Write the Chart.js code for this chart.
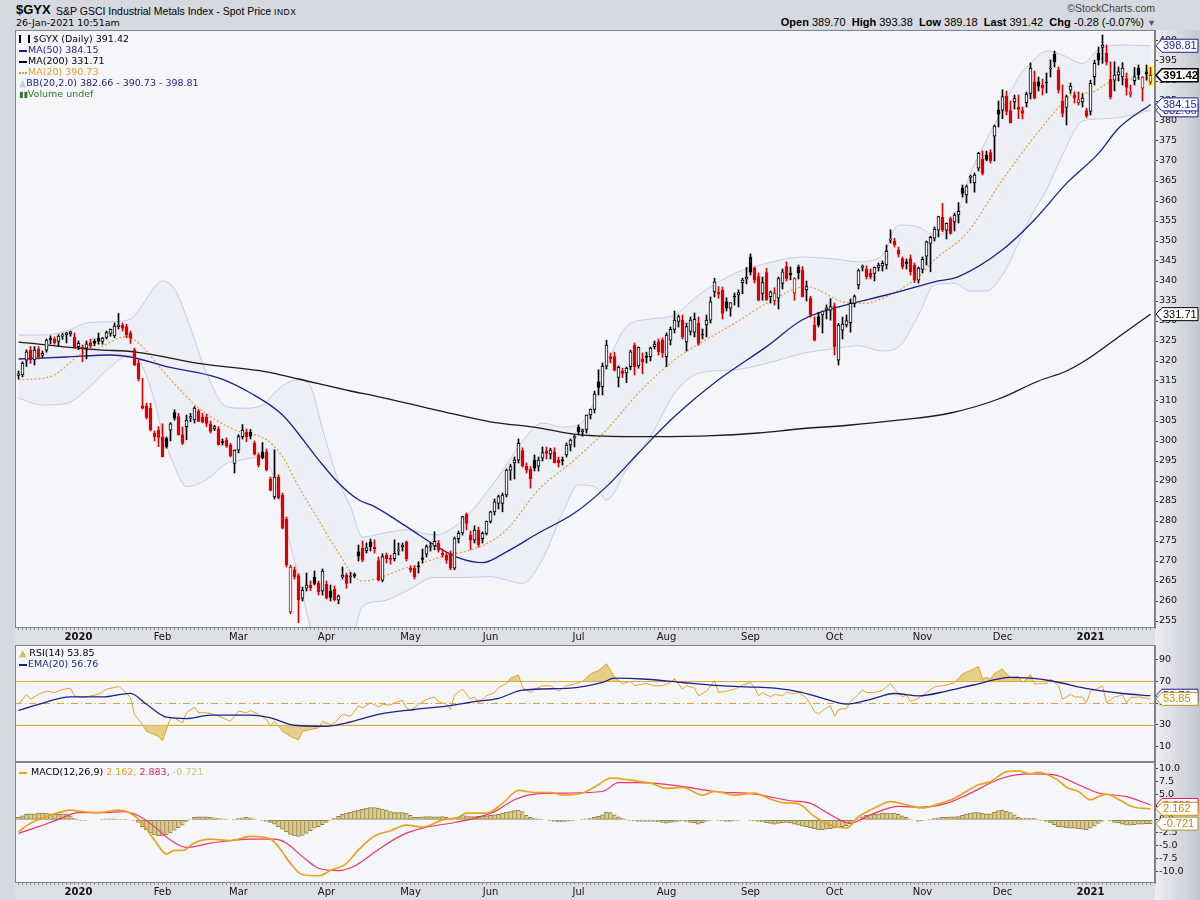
<!DOCTYPE html>
<html>
<head>
<meta charset="utf-8">
<script src="https://cdn.jsdelivr.net/npm/chart.js@4.4.1/dist/chart.umd.min.js"></script>
<style>
  body { margin: 0; width: 1200px; height: 900px; background: #d6d9df; position: relative; overflow: hidden;
         font-family: "DejaVu Sans", Verdana, sans-serif; }
  canvas { position: absolute; }
  .t { position: absolute; white-space: nowrap; }
  .lg { position: absolute; font-size: 9.5px; line-height: 11px; white-space: nowrap; }
  .ln { display: inline-block; width: 8px; height: 2px; vertical-align: middle; margin-right: 1px; }
  .hdr { font-family: "Liberation Sans", Arial, sans-serif; }
  .hdr b { font-weight: bold; }
</style>
</head>
<body>
<div class="t hdr" style="left:16px;top:2px;font-size:13px;font-weight:bold;">$GYX</div>
<div class="t hdr" style="left:56px;top:5px;font-size:10.5px;">S&amp;P GSCI Industrial Metals Index - Spot Price <span style="font-size:8.5px;letter-spacing:0.5px;">INDX</span></div>
<div class="t" style="left:16px;top:17px;font-size:9.5px;">26-Jan-2021 10:51am</div>
<div class="t hdr" style="right:45px;top:2px;font-size:10.5px;color:#444;">&copy;StockCharts.com</div>
<div class="t hdr" style="right:44px;top:16px;font-size:11px;"><b>Open</b> 389.70 &nbsp;<b>High</b> 393.38 &nbsp;<b>Low</b> 389.18 &nbsp;<b>Last</b> 391.42 &nbsp;<b>Chg</b> -0.28 (-0.07%) <span style="color:#4a5a9a;font-size:9px;">&#9660;</span></div>

<canvas id="main" width="1185" height="615" style="left:15px;top:30px"></canvas>
<canvas id="rsi" width="1185" height="117" style="left:15px;top:645px"></canvas>
<canvas id="macd" width="1185" height="138" style="left:15px;top:762px"></canvas>

<div class="lg" id="lgMain" style="left:19px;top:33px;"></div>
<div class="lg" id="lgRsi" style="left:19px;top:647px;"></div>
<div class="lg" id="lgMacd" style="left:19px;top:766px;"></div>

<script>
// ---- daily candles, index 0 = 10-Dec-2019 ... 283 = 26-Jan-2021 ----
const opens = [
  316.4,316.5,320.2,322.7,320.3,323.0,321.4,322.7,325.6,325.4,
  324.9,326.2,326.6,326.8,326.0,323.6,323.4,323.2,324.6,324.9,
  325.7,324.9,325.9,326.9,326.3,328.6,329.0,328.6,327.0,322.7,
  319.4,308.8,308.7,308.2,302.0,302.7,301.0,300.6,302.7,307.1,
  306.1,301.6,303.6,305.7,305.3,307.5,306.0,306.0,304.3,303.0,
  303.0,299.8,300.2,299.0,294.4,297.7,301.1,302.2,302.2,299.4,
  296.5,297.3,297.3,290.5,286.0,291.0,286.5,280.4,257.3,267.8,
  266.3,260.7,263.2,263.9,265.9,264.4,262.5,264.2,262.5,263.0,
  260.2,266.0,266.4,266.0,266.6,272.3,273.2,272.6,274.8,273.4,
  270.1,265.2,271.5,270.5,270.6,272.5,273.5,274.8,268.2,268.2,
  268.8,270.8,271.7,273.5,273.8,274.4,271.9,271.4,271.9,268.2,
  275.6,277.0,281.7,276.5,275.2,277.7,275.6,276.9,279.9,282.3,
  284.4,284.4,286.5,292.7,294.5,295.2,297.6,293.7,292.9,295.2,
  293.7,295.7,297.4,296.7,297.3,295.2,295.3,296.5,299.0,300.8,
  303.4,302.3,302.9,306.5,307.9,314.8,313.6,318.7,321.1,321.1,
  315.9,317.4,317.0,318.6,324.0,318.8,320.5,321.2,321.1,323.6,
  324.8,325.2,321.1,325.2,327.9,329.9,330.2,324.8,327.4,327.2,
  329.4,326.6,329.0,330.2,337.3,337.2,337.7,334.8,333.2,336.3,
  336.5,339.6,340.5,346.0,343.2,341.1,336.9,342.1,336.1,335.1,
  335.7,339.4,343.6,342.0,337.0,343.4,342.7,337.8,335.7,329.0,
  331.1,331.5,332.8,332.7,333.7,320.2,327.7,329.0,329.6,334.4,
  339.0,343.4,343.0,342.0,341.9,343.4,343.8,344.0,350.2,350.0,
  347.7,345.6,344.8,345.6,344.0,340.2,342.9,346.2,349.4,350.7,
  352.7,355.9,352.7,355.6,354.8,356.5,363.2,361.5,365.9,364.6,
  368.2,370.4,371.5,372.1,376.2,382.7,382.7,386.2,382.6,384.8,
  383.4,382.6,384.6,386.9,389.8,389.8,389.0,389.7,393.0,396.7,
  392.7,385.0,383.4,387.7,386.5,384.6,384.8,382.6,382.4,391.1,
  396.9,398.4,396.9,390.4,390.2,391.5,391.0,390.6,386.8,390.1,
  393.2,388.2,392.3,389.70
];
const highs = [
  317.5,319.8,322.8,323.6,323.6,323.6,322.5,325.5,326.3,326.0,
  326.6,326.9,327.2,327.5,327.0,325.0,324.0,325.0,325.5,325.5,
  327.0,325.9,327.5,328.0,329.5,331.9,329.5,329.2,327.5,323.2,
  320.2,315.7,309.5,309.4,302.5,303.6,304.3,301.0,304.6,307.8,
  306.9,303.5,306.5,306.9,308.6,307.9,306.9,306.7,305.0,303.9,
  303.6,300.5,300.8,299.4,297.8,301.6,304.1,303.0,302.9,300.0,
  297.0,299.6,298.0,291.0,297.8,291.5,287.0,281.0,269.0,268.5,
  266.8,263.5,267.0,265.0,267.5,265.0,268.0,265.0,264.0,263.8,
  261.5,268.5,267.0,267.2,267.0,274.0,275.0,274.5,275.5,275.3,
  271.0,271.8,272.0,271.5,275.3,274.5,274.5,275.0,268.8,268.8,
  269.8,273.0,274.0,274.5,277.3,275.2,273.0,272.2,272.5,276.0,
  277.5,281.2,282.0,277.5,278.8,278.5,277.3,280.0,282.5,285.5,
  286.5,287.0,293.0,294.2,296.0,300.5,298.3,294.5,293.6,296.5,
  296.0,298.5,298.5,298.2,298.3,296.0,296.0,299.5,300.5,301.5,
  304.0,303.0,306.5,308.0,312.5,317.8,319.5,325.2,322.0,322.2,
  318.8,318.2,318.5,322.7,324.5,323.5,322.0,322.2,323.5,325.0,
  325.5,325.8,327.0,328.5,332.5,331.5,331.5,329.5,331.0,332.0,
  331.0,328.0,331.5,336.0,340.7,338.6,338.5,335.8,334.5,337.0,
  337.8,340.7,343.4,346.8,343.5,342.0,341.0,343.2,337.5,338.3,
  341.0,343.0,344.8,343.5,340.8,344.0,343.6,340.0,336.2,331.0,
  332.2,332.5,334.0,335.6,334.5,329.4,331.0,331.5,335.5,336.5,
  343.0,344.0,343.8,343.0,343.5,344.5,345.0,349.0,352.8,350.7,
  348.5,346.0,345.5,346.5,344.5,343.5,346.0,350.0,351.2,353.5,
  356.2,359.4,354.5,356.0,357.0,359.6,364.0,364.0,366.5,367.0,
  372.2,372.5,372.5,372.8,379.0,385.0,387.8,387.5,385.0,386.5,
  386.5,383.5,387.2,394.5,392.5,391.0,390.5,392.0,395.3,397.5,
  393.5,389.0,386.5,389.5,387.3,387.3,386.8,383.2,390.2,395.2,
  398.5,401.5,399.0,394.8,394.8,393.5,394.6,392.0,389.0,393.4,
  394.0,391.1,394.0,393.38
];
const lows = [
  315.5,316.0,318.6,319.4,319.0,320.5,320.8,322.2,324.3,324.2,
  323.8,325.4,324.5,326.2,323.2,322.8,319.8,320.5,323.3,323.8,
  324.2,324.2,325.5,326.2,325.8,328.0,327.5,325.8,324.4,318.8,
  315.0,308.0,305.5,302.5,300.0,298.6,296.0,298.2,300.0,305.2,
  301.5,299.1,300.3,304.8,304.5,304.8,304.5,303.6,302.0,302.6,
  299.0,299.0,298.4,296.0,292.0,297.0,300.5,299.8,300.5,296.5,
  293.5,295.5,292.5,287.5,285.5,285.5,278.0,268.5,256.8,265.5,
  254.6,260.0,262.5,262.6,264.0,261.5,261.5,260.5,260.0,260.0,
  259.3,265.5,263.2,264.5,265.8,270.0,269.8,272.0,272.5,272.0,
  265.0,264.8,269.5,269.2,270.0,271.5,272.5,270.0,267.2,265.5,
  267.0,269.5,271.0,272.5,272.8,272.2,271.0,269.4,267.8,267.8,
  274.5,276.5,277.8,272.9,274.5,273.5,274.5,276.5,279.5,281.5,
  283.0,282.3,286.0,290.2,290.5,294.5,293.5,292.0,288.2,292.5,
  292.5,295.0,295.5,295.5,294.5,293.5,294.0,296.0,297.5,298.5,
  301.5,301.2,302.0,305.5,307.0,311.5,311.5,318.0,319.5,317.5,
  313.5,315.9,314.6,317.8,316.5,318.2,316.8,319.5,320.0,323.0,
  321.5,320.9,318.6,324.0,327.0,328.5,325.5,322.5,326.5,326.0,
  323.9,325.5,326.0,329.5,336.0,335.7,330.5,332.5,331.2,334.0,
  333.5,336.8,339.3,341.5,339.5,335.0,335.2,335.2,334.5,334.0,
  333.0,338.0,340.0,340.3,335.2,340.5,336.0,335.0,331.0,325.0,
  328.5,327.0,330.5,330.2,321.5,319.0,325.5,328.5,327.2,333.5,
  338.0,342.5,340.5,340.5,340.0,342.5,342.5,343.0,349.5,348.5,
  346.0,343.0,343.0,341.5,339.6,339.5,342.0,344.0,342.3,350.0,
  351.0,352.3,350.5,351.7,352.5,354.5,361.0,359.5,364.5,362.2,
  367.5,366.5,370.0,369.5,370.0,378.5,380.6,381.5,379.5,383.0,
  380.6,380.5,383.5,385.5,385.5,387.5,386.5,387.0,391.0,393.5,
  387.0,381.0,379.0,386.9,384.5,384.0,383.5,380.8,381.5,389.0,
  394.0,394.4,394.0,385.5,387.5,390.0,389.0,386.5,386.0,389.0,
  390.4,385.0,390.2,389.18
];
const closes = [
  316.8,319.4,322.3,320.3,322.7,321.1,321.9,325.2,325.4,324.6,
  326.2,326.4,327.0,327.3,323.6,324.4,323.2,324.3,323.8,324.4,
  324.9,325.7,327.1,327.9,328.7,329.0,328.2,326.5,325.7,319.0,
  315.6,308.2,305.9,302.8,301.1,300.9,296.1,298.6,304.3,305.7,
  301.5,299.4,305.2,306.1,308.2,304.9,304.8,304.4,302.4,303.6,
  299.0,299.6,298.8,296.3,297.7,301.1,302.7,301.0,301.2,296.7,
  294.0,295.8,292.7,287.7,291.0,285.8,278.2,269.0,268.5,266.1,
  260.3,262.7,264.0,263.3,264.4,262.3,267.5,260.7,260.9,260.3,
  261.2,266.4,264.4,266.2,266.3,271.2,270.2,273.3,273.6,273.1,
  265.2,271.1,270.6,270.4,271.9,272.8,274.0,270.6,267.8,266.0,
  268.5,270.4,273.6,273.6,274.9,272.7,271.5,270.2,268.2,275.6,
  276.9,281.1,279.4,275.2,277.7,274.0,276.9,279.9,282.3,284.8,
  286.1,286.5,292.7,293.6,295.2,299.4,293.7,292.7,290.6,293.2,
  295.2,297.1,296.9,297.7,294.6,294.5,295.0,299.0,300.2,301.1,
  302.3,302.8,306.5,307.9,311.7,313.4,318.7,324.0,320.5,317.7,
  318.4,316.9,318.2,322.3,318.6,323.4,319.8,320.9,323.2,324.2,
  322.3,322.0,326.5,327.9,330.2,331.1,326.1,328.6,330.2,330.4,
  324.4,326.5,330.2,334.8,339.8,336.7,331.9,333.2,334.6,336.0,
  337.1,340.2,340.9,342.2,340.2,335.2,339.6,335.2,337.3,337.0,
  340.6,342.3,340.6,341.6,340.6,342.0,336.1,338.6,331.5,325.2,
  329.0,332.5,333.3,333.6,323.6,329.0,329.2,330.1,334.4,336.1,
  342.6,343.6,341.1,341.0,343.4,344.0,344.4,347.4,350.3,349.0,
  346.7,343.6,344.4,342.3,340.2,343.2,345.4,349.8,350.9,353.0,
  356.1,352.7,354.4,351.9,356.5,357.4,361.9,363.6,366.1,366.5,
  371.9,366.9,370.4,370.1,378.7,381.7,386.1,382.4,379.6,385.6,
  382.9,381.9,386.7,393.2,385.7,388.7,388.2,389.5,393.2,394.8,
  387.7,381.9,386.1,388.7,385.8,385.3,385.7,381.3,389.4,394.4,
  395.2,399.0,394.8,386.1,391.5,392.3,393.2,388.4,387.3,391.1,
  391.5,391.0,391.7,391.42
];

// ---- overlays as [day index, value] ----
const ma200Pts = [[0,324.7],[20,322.8],[29,322.3],[45,319.4],[62,317.3],[70,315.5],[83,312.5],[89,311.3],
  [105,307.6],[118,304.8],[130,303.3],[140,301.6],[155,301.1],[172,301.3],[185,302.0],[195,303.0],
  [208,304.0],[220,305.2],[233,307.0],[245,310.5],[255,315.0],[262,317.5],[267,320.3],[275,326.0],[283,331.71]];
const ma50Pts = [[0,320.5],[12,321.0],[23,321.5],[28,321.0],[37,318.6],[50,315.8],[58,312.0],[66,306.5],
  [75,295.3],[80,289.5],[85,285.3],[89,283.6],[97,278.6],[106,272.8],[110,270.8],[116,269.6],[122,272.3],
  [130,277.0],[139,282.0],[147,288.6],[155,297.0],[164,306.1],[175,315.3],[187,323.6],[196,330.3],
  [206,333.8],[217,336.5],[229,339.8],[235,341.1],[246,347.8],[254,355.3],[262,364.4],[270,371.9],
  [275,378.2],[283,384.15]];
const ma20Pts = [[0,315.3],[8,316.1],[16,322.0],[20,323.3],[27,326.1],[30,324.5],[37,316.5],[45,308.3],
  [54,302.8],[62,300.3],[66,296.1],[70,288.6],[75,280.3],[79,273.6],[86,265.0],[97,268.3],[106,271.1],
  [116,273.8],[122,277.8],[130,287.8],[139,295.3],[147,302.8],[155,312.0],[164,320.3],[171,324.8],
  [179,329.4],[187,334.4],[197,338.6],[206,334.8],[211,334.4],[217,336.1],[225,341.1],[229,345.3],
  [237,351.9],[246,365.3],[254,376.1],[261,384.4],[264,386.9],[268,387.1],[273,389.8],[283,390.73]];
const bbIdx = [0,6,12,17,23,28,31,34,36,39, 42,47,52,56,61,64,67,70,73,76,
  80,83,86,91,97,104,112,118,121,126, 131,136,140,144,147,152,158,164,170,179,
  187,196,204,210,216,220,225,229,234,238, 242,246,250,253,257,261,266,270,276,283];
const bbUpper = [326.5,326.5,327.5,329.5,329.8,330.5,334.0,338.5,340.0,338.0,
  331.0,317.0,308.6,308.2,309.0,312.0,314.5,315.3,313.6,303.0,
  290.0,283.6,276.0,276.9,277.8,276.5,281.1,288.5,292.5,300.0,
  304.5,303.5,304.0,310.0,318.6,328.6,330.5,331.5,336.5,341.9,
  344.4,346.0,345.5,344.8,346.5,354.0,353.5,351.5,354.8,366.9,
  375.3,383.0,391.0,394.4,397.5,396.5,394.4,397.8,399.0,398.81];
const bbLower = [310.7,309.0,309.4,312.8,318.6,321.5,318.6,310.0,302.0,293.6,
  288.6,290.3,294.4,295.3,296.1,290.3,277.8,266.0,253.2,243.0,
  240.0,248.0,258.6,260.0,262.5,265.9,265.9,266.1,265.5,264.4,
  270.5,282.0,289.0,288.6,285.3,292.8,301.1,311.9,316.9,317.8,
  319.4,321.9,323.1,323.8,322.5,323.5,331.5,339.0,339.4,337.5,
  337.5,341.5,349.5,356.0,362.8,371.5,380.0,380.5,381.0,382.66];

// ---- RSI(14) and its EMA(20) ----
const rsiPts = [[0,48.8],[2,58],[3,53.4],[5,58],[7,61],[9,59.7],[11,62.5],[13,63.8],[14,56.6],[16,55],
  [18,56.6],[20,58],[22,62.8],[25,65.3],[26,62.8],[28,55],[29,39.4],[31,30],[32,23.8],[34,20.6],[35,19],
  [36,15],[38,36.3],[39,36.3],[41,31.6],[42,41],[44,46.3],[45,41],[47,41],[49,39.4],[51,36.3],[53,33],
  [55,42.5],[57,41],[58,43],[60,39.4],[62,34.7],[63,28.4],[64,33],[66,23.8],[68,19],[70,16],[71,23.8],
  [73,25.3],[75,27],[76,33],[78,30],[79,31.6],[81,39.4],[83,37.8],[85,47.2],[86,45.6],[88,50.3],[90,46.3],
  [91,48.8],[93,48.1],[94,50.3],[96,52.5],[97,45.6],[98,43],[100,48.8],[102,53.4],[104,55.6],[105,51.3],
  [107,48.8],[108,44],[109,57.5],[111,62.8],[113,53.4],[114,55.6],[115,50.3],[117,56.6],[119,59.7],
  [120,64.4],[122,68],[123,73],[125,76],[126,64.4],[128,59.7],[129,62.8],[131,66],[133,66],[135,61],
  [137,66],[139,67.5],[141,70],[143,77],[145,80],[147,86.3],[149,73.8],[151,68],[153,70],[154,66],
  [156,67.5],[157,68],[159,66],[161,66],[163,69],[164,72.8],[166,62.8],[167,66],[169,63.8],[170,56.6],
  [172,61],[174,70.6],[175,59.7],[177,61],[179,62.8],[181,66.6],[183,69],[184,64.4],[185,56.6],[186,59.7],
  [188,55.6],[189,58],[191,56.6],[192,59.7],[194,58.8],[195,59.7],[197,54.4],[198,48.8],[199,41.9],
  [200,40],[202,45.6],[203,47.2],[204,37.8],[205,44],[207,45],[208,51.3],[210,58],[211,61.9],[212,59.7],
  [214,59.7],[216,61.9],[218,68],[219,62.8],[221,55.6],[222,57.5],[223,51.3],[225,54.4],[227,59.7],
  [229,65],[231,66],[233,67.5],[234,69],[236,77],[238,80],[240,83.8],[241,72.2],[242,73.8],[243,72.2],
  [244,77.5],[246,81.5],[247,77],[248,73.8],[250,74.4],[251,69],[253,76.3],[254,67.5],[256,68],[257,68],
  [258,72.2],[260,66],[261,53.4],[263,58],[264,55.6],[266,55.6],[267,50.3],[268,61],[270,63.8],[271,66],
  [272,50.3],[274,55.6],[276,57.5],[277,50.3],[278,55],[280,55.6],[282,54.4],[283,53.85]];
const rsiEmaPts = [[0,43.1],[5,48.8],[13,55.6],[21,55.6],[28,59],[32,48.8],[37,36.9],[42,35.6],[48,38.8],
  [58,38.8],[63,36.3],[69,29.4],[77,28.4],[82,31.6],[90,39.4],[99,44],[107,47.2],[114,51.3],[120,54.4],
  [126,61.9],[138,63.8],[146,69],[149,73],[157,72],[166,69],[173,66.6],[182,65],[189,63.8],[196,59.7],
  [202,53.4],[207,49],[213,53.4],[219,58.8],[225,56.6],[232,61],[239,66.9],[248,73.8],[253,73],
  [258,70.6],[268,62.8],[276,58.8],[283,56.76]];

// ---- MACD(12,26,9) ----
const macdPts = [[0,-2.26],[3,-0.65],[7,0.65],[10,1.4],[13,1.9],[16,1.6],[20,1.4],[25,1.9],[28,1.3],
  [31,-0.65],[34,-3.9],[37,-6.6],[39,-5.9],[41,-5.9],[44,-4.4],[48,-3.7],[53,-4.0],[58,-3.2],[63,-3.7],
  [65,-5.2],[68,-8.4],[71,-10.6],[75,-10.8],[78,-9.8],[82,-8.4],[85,-5.8],[89,-3.1],[93,-2.1],[97,-1.0],
  [101,-1.4],[106,0],[110,0.5],[112,1.3],[117,1.3],[121,3.2],[125,5.7],[129,5.3],[133,5.3],[136,4.8],
  [141,5.2],[145,6.8],[148,8.1],[153,7.7],[158,7.1],[162,6.1],[166,6.3],[171,4.8],[174,5.5],[179,4.8],
  [184,5.2],[188,4.0],[191,3.35],[195,3.1],[199,0.65],[203,-1.0],[207,-1.6],[210,0.65],[214,2.3],
  [218,3.55],[222,2.9],[226,2.3],[230,3.1],[234,4.2],[240,6.8],[243,7.4],[247,9.35],[250,9.5],[253,8.9],
  [255,9.2],[258,8.5],[260,7.6],[262,6.3],[265,5.5],[268,3.9],[270,4.5],[272,5.0],[275,4.0],[278,2.7],
  [280,2.3],[283,2.162]];
const signalPts = [[0,-2.6],[5,-1.3],[10,0.1],[15,1.4],[21,1.4],[26,1.6],[30,0.8],[34,-1.3],[38,-3.9],
  [42,-5.3],[48,-4.5],[58,-3.7],[64,-3.7],[67,-4.5],[71,-7.1],[75,-9.35],[80,-9.8],[84,-8.9],[90,-5.7],
  [96,-2.9],[101,-1.6],[109,-0.5],[114,0.3],[119,1.6],[124,3.9],[129,5.0],[137,5.2],[146,5.5],[150,7.2],
  [155,7.2],[165,6.6],[174,5.5],[184,5.0],[193,3.7],[198,3.2],[203,1.0],[208,-0.65],[213,1.0],[220,2.6],
  [225,2.45],[232,3.2],[237,4.8],[246,8.1],[253,8.9],[259,8.7],[265,6.8],[270,5.2],[277,4.5],[283,2.883]];
const histVals = [
  0.5,0.8,1.1,1.2,1.2,1.3,1.3,1.3,1.2,1.1,
  1.1,1.2,1.2,0.8,0.3,0.1,-0.1,-0.1,0.0,0.0,
  0.0,0.1,0.2,0.2,0.2,0.1,0.1,0.1,0.0,-0.1,
  -0.5,-1.3,-1.9,-2.5,-2.9,-3.1,-3.1,-2.9,-2.5,-2.0,
  -1.5,-1.0,-0.4,0.1,0.5,0.6,0.6,0.6,0.5,0.4,
  0.3,0.2,0.1,0.0,0.1,0.3,0.4,0.5,0.4,0.2,
  0.0,-0.1,-0.3,-0.5,-0.8,-1.3,-1.8,-2.3,-2.8,-3.1,
  -3.2,-3.0,-2.6,-2.1,-1.6,-1.3,-0.9,-0.5,-0.1,0.3,
  0.7,1.1,1.3,1.5,1.7,1.9,2.1,2.3,2.4,2.4,
  2.3,2.1,1.9,1.6,1.4,1.4,1.4,1.3,0.9,0.5,
  0.5,0.6,0.65,0.65,0.6,0.6,0.65,0.5,0.3,0.1,
  0.5,1.0,0.8,0.65,0.65,0.7,0.8,0.8,0.9,1.0,
  1.1,1.3,1.5,1.6,1.8,1.9,1.6,0.9,0.5,0.3,
  0.2,0.1,0.0,-0.2,-0.3,-0.4,-0.4,-0.3,-0.2,-0.1,
  0.0,0.1,0.2,0.3,0.5,0.7,1.0,1.5,1.4,1.0,
  0.6,0.3,0.1,-0.1,-0.2,-0.3,-0.3,-0.3,-0.3,-0.3,
  -0.4,-0.5,-0.65,-0.5,-0.4,-0.3,-0.2,-0.3,-0.5,-0.6,
  -0.8,-0.6,-0.3,-0.1,0.0,-0.1,-0.2,-0.3,-0.3,-0.2,
  -0.1,0.0,0.0,-0.1,-0.2,-0.3,-0.4,-0.6,-0.7,-0.8,
  -0.7,-0.6,-0.5,-0.6,-0.8,-1.0,-1.2,-1.3,-1.5,-1.7,
  -1.9,-1.9,-1.8,-1.7,-1.6,-1.5,-1.3,-1.1,-0.7,-0.3,
  0.2,0.6,0.9,1.0,1.1,1.2,1.3,1.3,1.3,1.3,
  1.1,0.8,0.5,0.2,0.0,-0.3,-0.2,0.0,0.1,0.3,
  0.4,0.5,0.5,0.6,0.6,0.65,0.9,1.2,1.3,1.4,
  1.4,1.3,1.2,1.2,1.5,1.8,1.9,1.7,1.4,1.0,
  0.5,0.3,0.3,0.3,0.3,0.1,-0.1,-0.3,-0.6,-0.9,
  -1.3,-1.4,-1.5,-1.6,-1.6,-1.7,-1.8,-1.9,-1.6,-1.2,
  -0.7,-0.3,0.0,-0.2,-0.5,-0.6,-0.8,-1.0,-1.0,-0.9,
  -0.8,-0.8,-0.75,-0.721
];

// month labels on the date axis (day index of the first session of each month)
const tickIdx = [15, 36, 55, 77, 98, 118, 140, 162, 183, 204, 226, 246, 268];
const tickLabels = ['2020', 'Feb', 'Mar', 'Apr', 'May', 'Jun', 'Jul', 'Aug', 'Sep', 'Oct', 'Nov', 'Dec', '2021'];

const priceTicks = [255,260,265,270,275,280,285,290,295,300,305,310,315,320,325,330,335,340,345,350,355,360,365,370,375,380,385,390,395,400];
const rsiTicks = [10, 30, 50, 70, 90];
const macdTicks = [-10, -7.5, -5, -2.5, 0, 2.5, 5, 7.5, 10];

// ---------------------------------------------------------------------
const FONT = '"DejaVu Sans", Verdana, sans-serif';
const TAGFONT = '"Liberation Sans", Arial, sans-serif';
const RED = '#dd0000';
const NAVY = '#1e1e8c';
const ORANGE = '#e3a526';
const X_MIN = -0.875, X_MAX = 284.125;

Chart.defaults.font.family = FONT;
Chart.defaults.font.size = 9.5;
Chart.defaults.color = '#111';
Chart.defaults.animation = false;
Chart.defaults.plugins.legend.display = false;
Chart.defaults.plugins.tooltip.enabled = false;

const last = a => a[a.length - 1];
const pts = a => a.map(([x, y]) => ({x, y}));

const candleColor = closes.map((c, i) => (i > 0 && c < closes[i - 1]) ? RED : '#000');
const bodyFill = closes.map((c, i) => c > opens[i] ? '#ffffff' : candleColor[i]);

function xAxis(show) {
  return {
    type: 'linear', min: X_MIN, max: X_MAX, display: show, offset: false,
    afterBuildTicks: s => { s.ticks = tickIdx.map(v => ({value: v})); },
    afterFit: s => {
      if (show) s.height = 17;
      s.paddingLeft = 0; s.paddingRight = 0;
    },
    grid: {display: false, drawTicks: false, offset: false},
    border: {display: false},
    ticks: {
      autoSkip: false, maxRotation: 0, padding: 3, color: '#111',
      callback: v => tickLabels[tickIdx.indexOf(v)],
      font: c => ({family: FONT, size: 10,
        weight: (c.tick && /^\d/.test(tickLabels[tickIdx.indexOf(c.tick.value)] || '')) ? 'bold' : 'normal'})
    }
  };
}

function yAxis(min, max, ticks, fmt) {
  return {
    position: 'right', min, max,
    afterFit: s => { s.width = 45; s.paddingTop = 0; s.paddingBottom = 0; },
    afterBuildTicks: s => { s.ticks = ticks.map(v => ({value: v})); },
    grid: {display: true, drawOnChartArea: false, drawTicks: true, tickLength: 3, color: '#444'},
    border: {display: true, color: '#7d828c'},
    ticks: {autoSkip: false, callback: fmt, padding: 1, color: '#111', font: {family: FONT, size: 9.5}}
  };
}

function drawTag(ctx, x0, x1, y, text, color, bold) {
  const h = 13;
  ctx.beginPath();
  ctx.moveTo(x0, y);
  ctx.lineTo(x0 + 6, y - h / 2);
  ctx.lineTo(x1, y - h / 2);
  ctx.lineTo(x1, y + h / 2);
  ctx.lineTo(x0 + 6, y + h / 2);
  ctx.closePath();
  ctx.fillStyle = '#ffffff';
  ctx.fill();
  ctx.lineWidth = bold ? 1.6 : 1;
  ctx.strokeStyle = color;
  ctx.stroke();
  ctx.fillStyle = color;
  ctx.font = (bold ? 'bold 11.5px ' : '11px ') + TAGFONT;
  ctx.textBaseline = 'middle';
  ctx.textAlign = 'left';
  ctx.fillText(text, x0 + 7, y + 0.5);
}

// panel background, border, reference lines, day ticks and right-hand value tags
const panel = {
  id: 'panel',
  beforeDraw(chart, args, o) {
    const {ctx, chartArea: a, width, height} = chart;
    ctx.save();
    const g = ctx.createLinearGradient(a.right, 0, width, 0);
    g.addColorStop(0, '#eceef2');
    g.addColorStop(1, '#c3c7cf');
    ctx.fillStyle = g;
    ctx.fillRect(a.right, 0, width - a.right, height);
    ctx.fillStyle = '#dcdfe5';
    ctx.fillRect(0, a.bottom, a.right, height - a.bottom);
    ctx.fillStyle = '#f5f6fa';
    ctx.fillRect(a.left, a.top, a.right - a.left, a.bottom - a.top);
    ctx.restore();
  },
  beforeDatasetsDraw(chart, args, o) {
    const {ctx, chartArea: a, scales} = chart;
    ctx.save();
    (o.hlines || []).forEach(h => {
      const y = Math.round(scales.y.getPixelForValue(h.v)) + 0.5;
      ctx.strokeStyle = ORANGE;
      ctx.lineWidth = 1;
      ctx.setLineDash(h.dash || []);
      ctx.beginPath();
      ctx.moveTo(a.left, y);
      ctx.lineTo(a.right, y);
      ctx.stroke();
    });
    ctx.setLineDash([]);
    if (o.highlightLast) {
      const i = closes.length - 1;
      const x = scales.x.getPixelForValue(i);
      const yh = scales.y.getPixelForValue(highs[i]);
      const yl = scales.y.getPixelForValue(lows[i]);
      ctx.fillStyle = '#ffff4d';
      ctx.fillRect(x - 3.5, yh - 2, 7, yl - yh + 4);
    }
    ctx.restore();
  },
  afterDraw(chart, args, o) {
    const {ctx, chartArea: a, width, scales} = chart;
    ctx.save();
    ctx.strokeStyle = '#7d828c';
    ctx.lineWidth = 1;
    ctx.strokeRect(a.left + 0.5, a.top + 0.5, a.right - a.left - 1, a.bottom - a.top - 1);
    if (o.dayTicks) {
      ctx.fillStyle = '#8e939c';
      for (let i = 0; i < closes.length; i++) {
        const x = Math.floor(scales.x.getPixelForValue(i));
        ctx.fillRect(x, a.bottom, 1, 2);
      }
    }
    (o.tags || []).forEach(t => {
      drawTag(ctx, a.right + 1, width - 2, scales.y.getPixelForValue(t.v), t.text, t.color, t.bold);
    });
    ctx.restore();
  }
};

const lineDs = (data, color, width, extra) => Object.assign({
  type: 'line', data: pts(data), borderColor: color, borderWidth: width,
  pointRadius: 0, fill: false, cubicInterpolationMode: 'monotone', order: 5
}, extra || {});

// ---------------- price panel ----------------
new Chart(document.getElementById('main'), {
  data: {
    datasets: [
      {type: 'line', data: bbIdx.map((x, k) => ({x, y: bbUpper[k]})), borderColor: 'rgba(178,182,228,0.7)',
       borderWidth: 1, pointRadius: 0, cubicInterpolationMode: 'monotone', fill: '+1',
       backgroundColor: 'rgba(200,203,232,0.16)', order: 20},
      {type: 'line', data: bbIdx.map((x, k) => ({x, y: bbLower[k]})), borderColor: 'rgba(178,182,228,0.7)',
       borderWidth: 1, pointRadius: 0, cubicInterpolationMode: 'monotone', fill: false, order: 20},
      lineDs(ma200Pts, '#1a1a1a', 1.3),
      lineDs(ma50Pts, NAVY, 1.3),
      lineDs(ma20Pts, '#e0a040', 1.2, {borderDash: [2, 2]}),
      {type: 'bar', data: closes.map((c, i) => ({x: i, y: [lows[i], highs[i]]})),
       backgroundColor: candleColor, barThickness: 1, grouped: false, order: 3},
      {type: 'bar', data: closes.map((c, i) => ({x: i, y: [Math.min(opens[i], c), Math.max(opens[i], c)]})),
       backgroundColor: bodyFill, borderColor: candleColor, borderWidth: 1, borderSkipped: false,
       barThickness: 3, minBarLength: 1, grouped: false, order: 2}
    ]
  },
  options: {
    responsive: false,
    layout: {autoPadding: false, padding: 0},
    scales: {
      x: xAxis(true),
      y: yAxis(253.25, 402.75, priceTicks, v => String(v))
    },
    plugins: {
      panel: {
        dayTicks: true, highlightLast: true,
        tags: [
          {v: last(bbLower), text: last(bbLower).toFixed(2), color: NAVY},
          {v: last(ma50Pts)[1], text: last(ma50Pts)[1].toFixed(2), color: NAVY},
          {v: last(bbUpper), text: last(bbUpper).toFixed(2), color: NAVY},
          {v: last(ma200Pts)[1], text: last(ma200Pts)[1].toFixed(2), color: '#000'},
          {v: last(closes), text: last(closes).toFixed(2), color: '#000', bold: true}
        ]
      }
    }
  },
  plugins: [panel]
});

// ---------------- RSI panel ----------------
new Chart(document.getElementById('rsi'), {
  data: {
    datasets: [
      {type: 'line', data: pts(rsiPts), borderColor: ORANGE, borderWidth: 1, pointRadius: 0, tension: 0,
       fill: {target: {value: 70}, above: 'rgba(220,192,100,0.75)', below: 'rgba(0,0,0,0)'}, order: 4},
      {type: 'line', data: pts(rsiPts), borderWidth: 0, borderColor: 'rgba(0,0,0,0)', pointRadius: 0, tension: 0,
       fill: {target: {value: 30}, above: 'rgba(0,0,0,0)', below: 'rgba(220,192,100,0.75)'}, order: 6},
      lineDs(rsiEmaPts, NAVY, 1.3, {order: 3})
    ]
  },
  options: {
    responsive: false,
    layout: {autoPadding: false, padding: 0},
    scales: {
      x: xAxis(false),
      y: yAxis(-4.6, 103.7, rsiTicks, v => String(v))
    },
    plugins: {
      panel: {
        hlines: [{v: 70}, {v: 30}, {v: 50, dash: [7, 3, 1, 3]}],
        tags: [
          {v: last(rsiEmaPts)[1], text: last(rsiEmaPts)[1].toFixed(2), color: NAVY},
          {v: last(rsiPts)[1], text: last(rsiPts)[1].toFixed(2), color: '#c98f10'}
        ]
      }
    }
  },
  plugins: [panel]
});

// ---------------- MACD panel ----------------
new Chart(document.getElementById('macd'), {
  data: {
    datasets: [
      {type: 'bar', data: histVals.map((v, i) => ({x: i, y: v})), backgroundColor: '#dccb86',
       borderColor: '#8d7d3e', borderWidth: {left: 1, right: 0, top: 1, bottom: 1}, borderSkipped: false,
       barThickness: 4, grouped: false, order: 6},
      lineDs(signalPts, '#f0336b', 1.2, {order: 4}),
      lineDs(macdPts, '#e8a322', 1.7, {order: 3})
    ]
  },
  options: {
    responsive: false,
    layout: {autoPadding: false, padding: 0},
    scales: {
      x: xAxis(true),
      y: yAxis(-12.2, 11.2, macdTicks, v => v.toFixed(1))
    },
    plugins: {
      panel: {
        dayTicks: true,
        tags: [
          {v: last(signalPts)[1], text: last(signalPts)[1].toFixed(3), color: '#e0205a'},
          {v: last(macdPts)[1], text: last(macdPts)[1].toFixed(3), color: '#d08a10'},
          {v: last(histVals), text: last(histVals).toFixed(3), color: '#b08a20'}
        ]
      }
    }
  },
  plugins: [panel]
});

// ---------------- legends (real text) ----------------
const ln = (c, dotted) => `<span class="ln" style="background:${dotted ? 'transparent' : c};${dotted ? 'border-top:2px dotted ' + c + ';height:0;' : ''}"></span>`;
document.getElementById('lgMain').innerHTML =
  `<div><span style="display:inline-block;width:7px;height:8px;border-left:2px solid #000;border-right:2px solid #000;margin-right:3px;vertical-align:-1px;"></span>$GYX (Daily) ${last(closes).toFixed(2)}</div>` +
  `<div style="color:${NAVY}">${ln(NAVY)}MA(50) ${last(ma50Pts)[1].toFixed(2)}</div>` +
  `<div style="color:#000">${ln('#000')}MA(200) ${last(ma200Pts)[1].toFixed(2)}</div>` +
  `<div style="color:#e0a030">${ln('#e0a030', true)}MA(20) ${last(ma20Pts)[1].toFixed(2)}</div>` +
  `<div style="color:${NAVY}"><span style="color:#c8cbe8">&#9650;</span>BB(20,2.0) ${last(bbLower).toFixed(2)} - ${last(ma20Pts)[1].toFixed(2)} - ${last(bbUpper).toFixed(2)}</div>` +
  `<div style="color:#2a7a2a"><span style="font-size:8px">&#9646;&#9646;</span>Volume undef</div>`;
document.getElementById('lgRsi').innerHTML =
  `<div><span style="color:#d8b860">&#9650;</span> RSI(14) ${last(rsiPts)[1].toFixed(2)}</div>` +
  `<div style="color:${NAVY}">${ln(NAVY)}EMA(20) ${last(rsiEmaPts)[1].toFixed(2)}</div>`;
document.getElementById('lgMacd').innerHTML =
  `<div>${ln('#e8a322')} MACD(12,26,9) <span style="color:#e8a322">${last(macdPts)[1].toFixed(3)},</span> ` +
  `<span style="color:#e0205a">${last(signalPts)[1].toFixed(3)},</span> <span style="color:#d8c070">${last(histVals).toFixed(3)}</span></div>`;
</script>
</body>
</html>
